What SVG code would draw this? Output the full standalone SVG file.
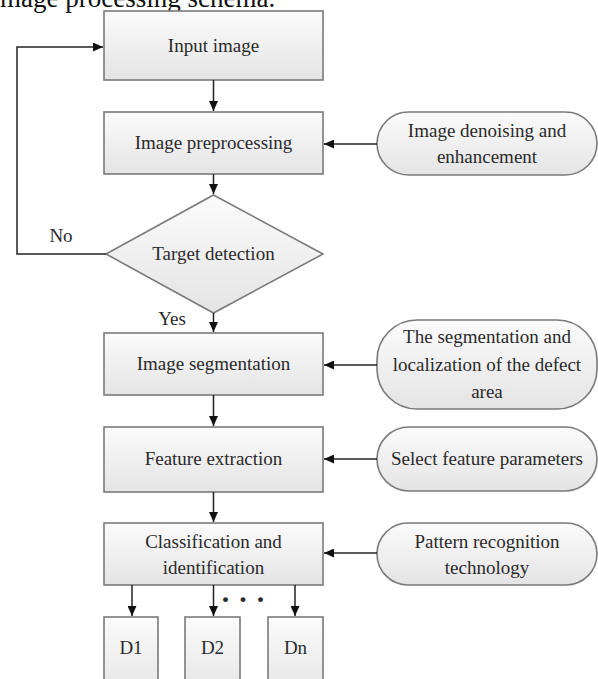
<svg xmlns="http://www.w3.org/2000/svg" width="598" height="679" viewBox="0 0 598 679">
<defs>
<linearGradient id="g" x1="0" y1="0" x2="0" y2="1">
<stop offset="0" stop-color="#fbfbfb"/>
<stop offset="1" stop-color="#e4e4e4"/>
</linearGradient>
<marker id="ah" viewBox="0 0 10 10" refX="10" refY="5" markerWidth="10" markerHeight="9" markerUnits="userSpaceOnUse" orient="auto" preserveAspectRatio="none">
<path d="M0,0 L10,5 L0,10 z" fill="#111"/>
</marker>
</defs>
<style>
.box{fill:url(#g);stroke:#7a7a7a;stroke-width:1.6}
.t{font-family:"Liberation Serif","Times New Roman",serif;font-size:19px;fill:#2a2a2a;text-anchor:middle}
.c{fill:none;stroke:#222;stroke-width:1.5;marker-end:url(#ah)}
</style>
<rect width="598" height="679" fill="#fff"/>
<text x="-7.5" y="7" style="font-family:'Liberation Serif','Times New Roman',serif;font-size:27px;fill:#111">image processing schema.</text>

<g id="input"><rect class="box" x="104" y="11" width="219" height="69"/><text class="t" x="213.5" y="52">Input image</text></g>
<g id="preproc"><rect class="box" x="104" y="112" width="219" height="62"/><text class="t" x="213.5" y="149">Image preprocessing</text></g>
<g id="target"><polygon class="box" points="213.5,195 323,254 213.5,313 106,254"/><text class="t" x="213.5" y="260">Target detection</text></g>
<g id="seg"><rect class="box" x="104" y="333" width="219" height="62"/><text class="t" x="213.5" y="370">Image segmentation</text></g>
<g id="feat"><rect class="box" x="104" y="427" width="219" height="65"/><text class="t" x="213.5" y="465">Feature extraction</text></g>
<g id="class"><rect class="box" x="104" y="523" width="219" height="62"/><text class="t" x="213.5" y="548">Classification and</text><text class="t" x="213.5" y="574">identification</text></g>
<g id="d1"><rect class="box" x="104" y="617" width="54" height="80"/><text class="t" x="131" y="654">D1</text></g>
<g id="d2"><rect class="box" x="185" y="617" width="55" height="80"/><text class="t" x="212.5" y="654">D2</text></g>
<g id="dn"><rect class="box" x="268" y="617" width="55" height="80"/><text class="t" x="295.5" y="654">Dn</text></g>

<g id="denoise"><rect class="box" x="377" y="112" width="220" height="63" rx="31.5"/><text class="t" x="487" y="137">Image denoising and</text><text class="t" x="487" y="163">enhancement</text></g>
<g id="segloc"><rect class="box" x="377" y="320" width="220" height="89" rx="40"/><text class="t" x="487" y="343">The segmentation and</text><text class="t" x="487" y="371">localization of the defect</text><text class="t" x="487" y="398">area</text></g>
<g id="select"><rect class="box" x="377" y="427" width="220" height="64" rx="32"/><text class="t" x="487" y="465">Select feature parameters</text></g>
<g id="pattern"><rect class="box" x="377" y="523" width="220" height="62" rx="31"/><text class="t" x="487" y="548">Pattern recognition</text><text class="t" x="487" y="574">technology</text></g>

<g id="labels">
<text class="t" x="61" y="242">No</text>
<text class="t" x="172" y="325">Yes</text>
<text class="t" x="243" y="609" style="font-size:30px;font-weight:bold">· · ·</text>
</g>

<g id="connectors">
<path class="c" d="M213.5,80 V111"/>
<path class="c" d="M213.5,174 V194"/>
<path class="c" d="M213.5,313 V332"/>
<path class="c" d="M213.5,395 V426"/>
<path class="c" d="M213.5,492 V522"/>
<path class="c" d="M106,254 H17 V47 H103"/>
<path class="c" d="M377,144 H324"/>
<path class="c" d="M377,365 H324"/>
<path class="c" d="M377,459 H324"/>
<path class="c" d="M377,553 H324"/>
<path class="c" d="M132,585 V616"/>
<path class="c" d="M213.5,585 V616"/>
<path class="c" d="M295,585 V616"/>
</g>
</svg>
